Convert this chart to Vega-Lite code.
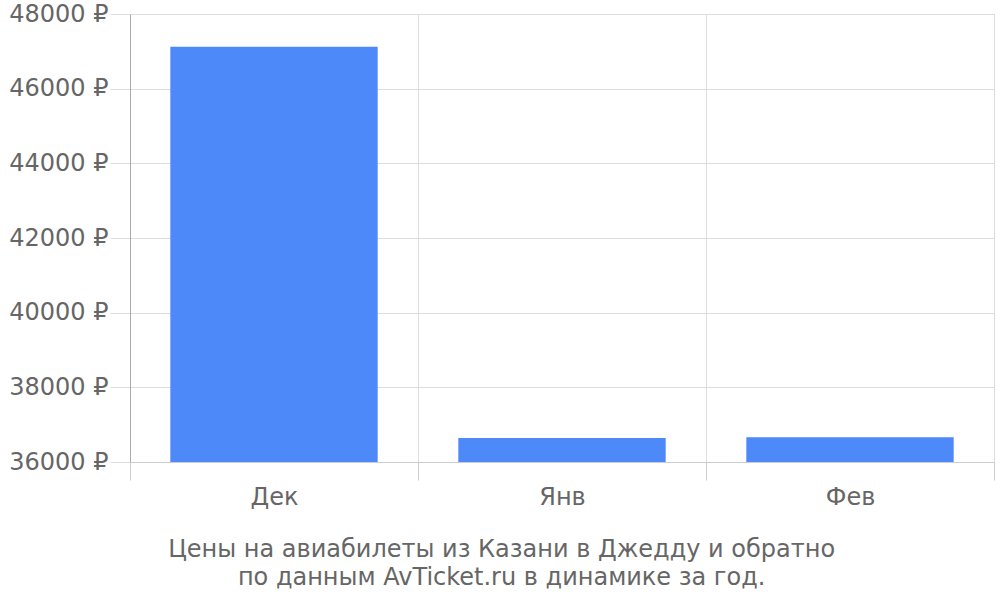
{
  "$schema": "https://vega.github.io/schema/vega-lite/v6.json",
  "autosize": "none",
  "width": 864,
  "height": 448,
  "padding": {"left": 130, "top": 14, "right": 6, "bottom": 138},
  "background": "white",
  "title": {
    "text": ["Цены на авиабилеты из Казани в Джедду и обратно", "по данным AvTicket.ru в динамике за год."],
    "orient": "bottom",
    "frame": "bounds",
    "anchor": "middle",
    "font": "DejaVu Sans",
    "fontSize": 24,
    "fontWeight": "normal",
    "color": "#666666",
    "lineHeight": 28,
    "offset": 29
  },
  "data": {
    "values": [
      {"month": "Дек", "price": 47120},
      {"month": "Янв", "price": 36640},
      {"month": "Фев", "price": 36660}
    ]
  },
  "mark": {"type": "bar", "color": "#4d89f9", "clip": true, "width": {"band": 0.72}},
  "encoding": {
    "x": {
      "field": "month",
      "type": "nominal",
      "sort": null,
      "scale": {"paddingInner": 0, "paddingOuter": 0},
      "axis": {
        "title": null,
        "labelAngle": 0,
        "labelFont": "DejaVu Sans",
        "labelFontSize": 24,
        "labelColor": "#666666",
        "labelPadding": 5,
        "grid": true,
        "gridColor": "#dddddd",
        "tickBand": "extent",
        "tickSize": 18,
        "tickColor": "#cccccc",
        "domainColor": "#cccccc"
      }
    },
    "y": {
      "field": "price",
      "type": "quantitative",
      "scale": {"domain": [36000, 48000], "nice": false, "zero": false},
      "axis": {
        "title": null,
        "values": [36000, 38000, 40000, 42000, 44000, 46000, 48000],
        "labelExpr": "datum.value + ' ₽'",
        "labelFont": "DejaVu Sans",
        "labelFontSize": 24,
        "labelColor": "#666666",
        "labelPadding": 2,
        "tickSize": 20,
        "tickColor": "#dddddd",
        "gridColor": "#dddddd",
        "domainColor": "#aaaaaa"
      }
    }
  }
}
